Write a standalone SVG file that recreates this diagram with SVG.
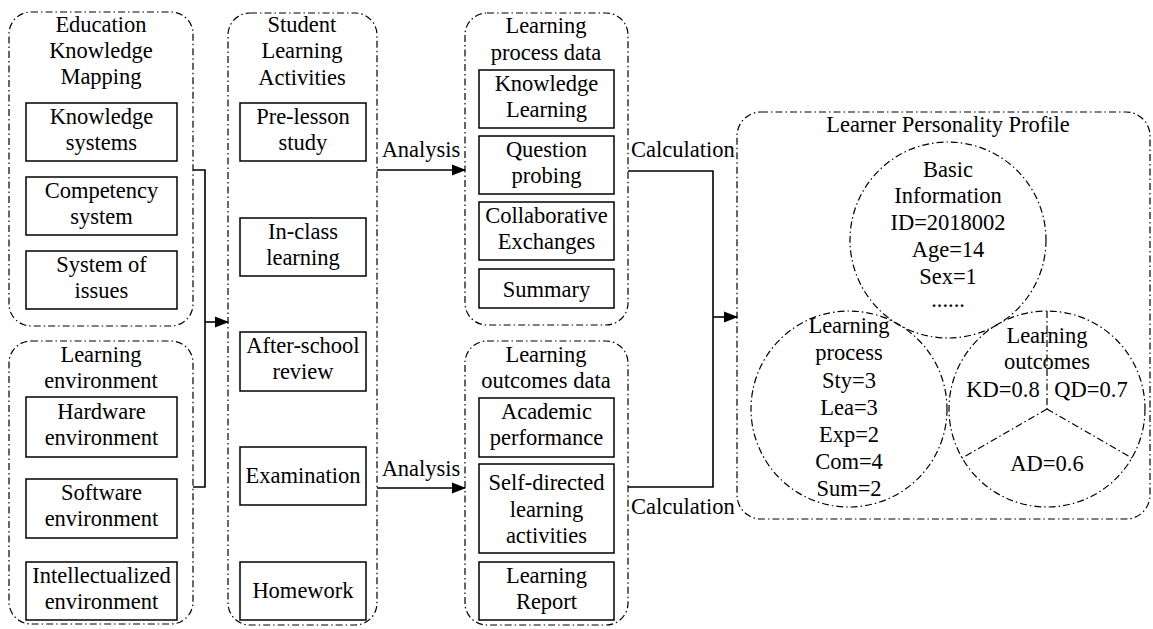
<svg xmlns="http://www.w3.org/2000/svg" width="1153" height="629" viewBox="0 0 1153 629" font-family="'Liberation Serif', 'DejaVu Serif', serif">
<defs>
<marker id="arr" markerWidth="14" markerHeight="12" refX="13" refY="6" orient="auto" markerUnits="userSpaceOnUse">
<path d="M0,0.5 L14,6 L0,11.5 z" fill="#000"/>
</marker>
<style>
text{font-family:'Liberation Serif','DejaVu Serif',serif;font-size:22.5px;fill:#000;text-anchor:middle}
.grp{fill:none;stroke:#000;stroke-width:1.2;stroke-dasharray:7 3 1.5 3}
.box{fill:#fff;stroke:#000;stroke-width:1.5}
.con{fill:none;stroke:#000;stroke-width:1.6}
.lbl{text-anchor:start}
</style>
</defs>
<rect width="1153" height="629" fill="#fff"/>

<g id="g-education">
<rect class="grp" x="9" y="12" width="184" height="314" rx="22"/>
<text x="101" y="32">Education</text>
<text x="101" y="58">Knowledge</text>
<text x="101" y="84">Mapping</text>
<g id="n-knowledge-systems"><rect class="box" x="26" y="103" width="151" height="58"/><text x="101.5" y="124">Knowledge</text><text x="101.5" y="150">systems</text></g>
<g id="n-competency"><rect class="box" x="26" y="177" width="151" height="58"/><text x="101.5" y="198">Competency</text><text x="101.5" y="224">system</text></g>
<g id="n-issues"><rect class="box" x="26" y="251" width="151" height="58"/><text x="101.5" y="272">System of</text><text x="101.5" y="298">issues</text></g>
</g>

<g id="g-environment">
<rect class="grp" x="9" y="341" width="184" height="283" rx="22"/>
<text x="101" y="362">Learning</text>
<text x="101" y="388">environment</text>
<g id="n-hardware"><rect class="box" x="26" y="397" width="151" height="60"/><text x="101.5" y="419">Hardware</text><text x="101.5" y="445">environment</text></g>
<g id="n-software"><rect class="box" x="26" y="479" width="151" height="59"/><text x="101.5" y="500">Software</text><text x="101.5" y="526">environment</text></g>
<g id="n-intellect"><rect class="box" x="26" y="562" width="151" height="58"/><text x="101.5" y="583">Intellectualized</text><text x="101.5" y="609">environment</text></g>
</g>

<g id="g-activities">
<rect class="grp" x="228" y="13" width="149" height="612" rx="22"/>
<text x="302" y="32">Student</text>
<text x="302" y="58">Learning</text>
<text x="302" y="85">Activities</text>
<g id="n-prelesson"><rect class="box" x="240" y="103" width="126" height="58"/><text x="303" y="124">Pre-lesson</text><text x="303" y="150">study</text></g>
<g id="n-inclass"><rect class="box" x="240" y="218" width="126" height="58"/><text x="303" y="239">In-class</text><text x="303" y="265">learning</text></g>
<g id="n-afterschool"><rect class="box" x="240" y="332" width="126" height="59"/><text x="303" y="353">After-school</text><text x="303" y="379">review</text></g>
<g id="n-exam"><rect class="box" x="240" y="447" width="126" height="58"/><text x="303" y="483">Examination</text></g>
<g id="n-homework"><rect class="box" x="240" y="562" width="126" height="58"/><text x="303" y="598">Homework</text></g>
</g>

<g id="g-process-data">
<rect class="grp" x="465" y="13" width="163" height="312" rx="22"/>
<text x="546" y="33">Learning</text>
<text x="546" y="60">process data</text>
<g id="n-knowledge-learning"><rect class="box" x="479" y="70" width="135" height="58"/><text x="546.5" y="91">Knowledge</text><text x="546.5" y="117">Learning</text></g>
<g id="n-question"><rect class="box" x="479" y="136" width="135" height="58"/><text x="546.5" y="157">Question</text><text x="546.5" y="183">probing</text></g>
<g id="n-collab"><rect class="box" x="479" y="202" width="135" height="58"/><text x="546.5" y="223">Collaborative</text><text x="546.5" y="249">Exchanges</text></g>
<g id="n-summary"><rect class="box" x="479" y="269" width="135" height="39"/><text x="546.5" y="297">Summary</text></g>
</g>

<g id="g-outcomes-data">
<rect class="grp" x="465" y="341" width="163" height="284" rx="22"/>
<text x="546" y="362">Learning</text>
<text x="546" y="388">outcomes data</text>
<g id="n-academic"><rect class="box" x="479" y="398" width="135" height="59"/><text x="546.5" y="419">Academic</text><text x="546.5" y="445">performance</text></g>
<g id="n-selfdirected"><rect class="box" x="479" y="464" width="135" height="89"/><text x="546.5" y="490">Self-directed</text><text x="546.5" y="517">learning</text><text x="546.5" y="543">activities</text></g>
<g id="n-report"><rect class="box" x="479" y="562" width="135" height="58"/><text x="546.5" y="583">Learning</text><text x="546.5" y="609">Report</text></g>
</g>

<g id="g-profile">
<rect class="grp" x="737" y="112" width="413" height="407" rx="24"/>
<text x="948" y="132">Learner Personality Profile</text>
<g id="n-basic">
<circle class="grp" cx="948" cy="240" r="98"/>
<text x="948" y="177">Basic</text>
<text x="948" y="203">Information</text>
<text x="948" y="230">ID=2018002</text>
<text x="948" y="257">Age=14</text>
<text x="948" y="284">Sex=1</text>
<text x="948" y="307">......</text>
</g>
<g id="n-lprocess">
<circle class="grp" cx="849" cy="409" r="98"/>
<text x="849" y="333">Learning</text>
<text x="849" y="360">process</text>
<text x="849" y="388">Sty=3</text>
<text x="849" y="415">Lea=3</text>
<text x="849" y="442">Exp=2</text>
<text x="849" y="469">Com=4</text>
<text x="849" y="496">Sum=2</text>
</g>
<g id="n-loutcomes">
<circle class="grp" cx="1047" cy="409" r="98"/>
<path class="grp" d="M1047,311 L1047,409 M1047,409 L962,458 M1047,409 L1132,458"/>
<text x="1047" y="343">Learning</text>
<text x="1047" y="369">outcomes</text>
<text x="1003" y="397">KD=0.8</text>
<text x="1091" y="397">QD=0.7</text>
<text x="1047" y="471">AD=0.6</text>
</g>
</g>

<g id="connectors">
<polyline class="con" points="193,170 205,170 205,487 193,487"/>
<line class="con" x1="205" y1="322" x2="228" y2="322" marker-end="url(#arr)"/>
<line class="con" x1="377" y1="170" x2="465" y2="170" marker-end="url(#arr)"/>
<text x="421" y="157">Analysis</text>
<line class="con" x1="377" y1="488" x2="465" y2="488" marker-end="url(#arr)"/>
<text x="421" y="476">Analysis</text>
<polyline class="con" points="628,171 713,171 713,487 628,487"/>
<line class="con" x1="713" y1="317" x2="737" y2="317" marker-end="url(#arr)"/>
<text class="lbl" x="631" y="157">Calculation</text>
<text class="lbl" x="631" y="514">Calculation</text>
</g>
</svg>
